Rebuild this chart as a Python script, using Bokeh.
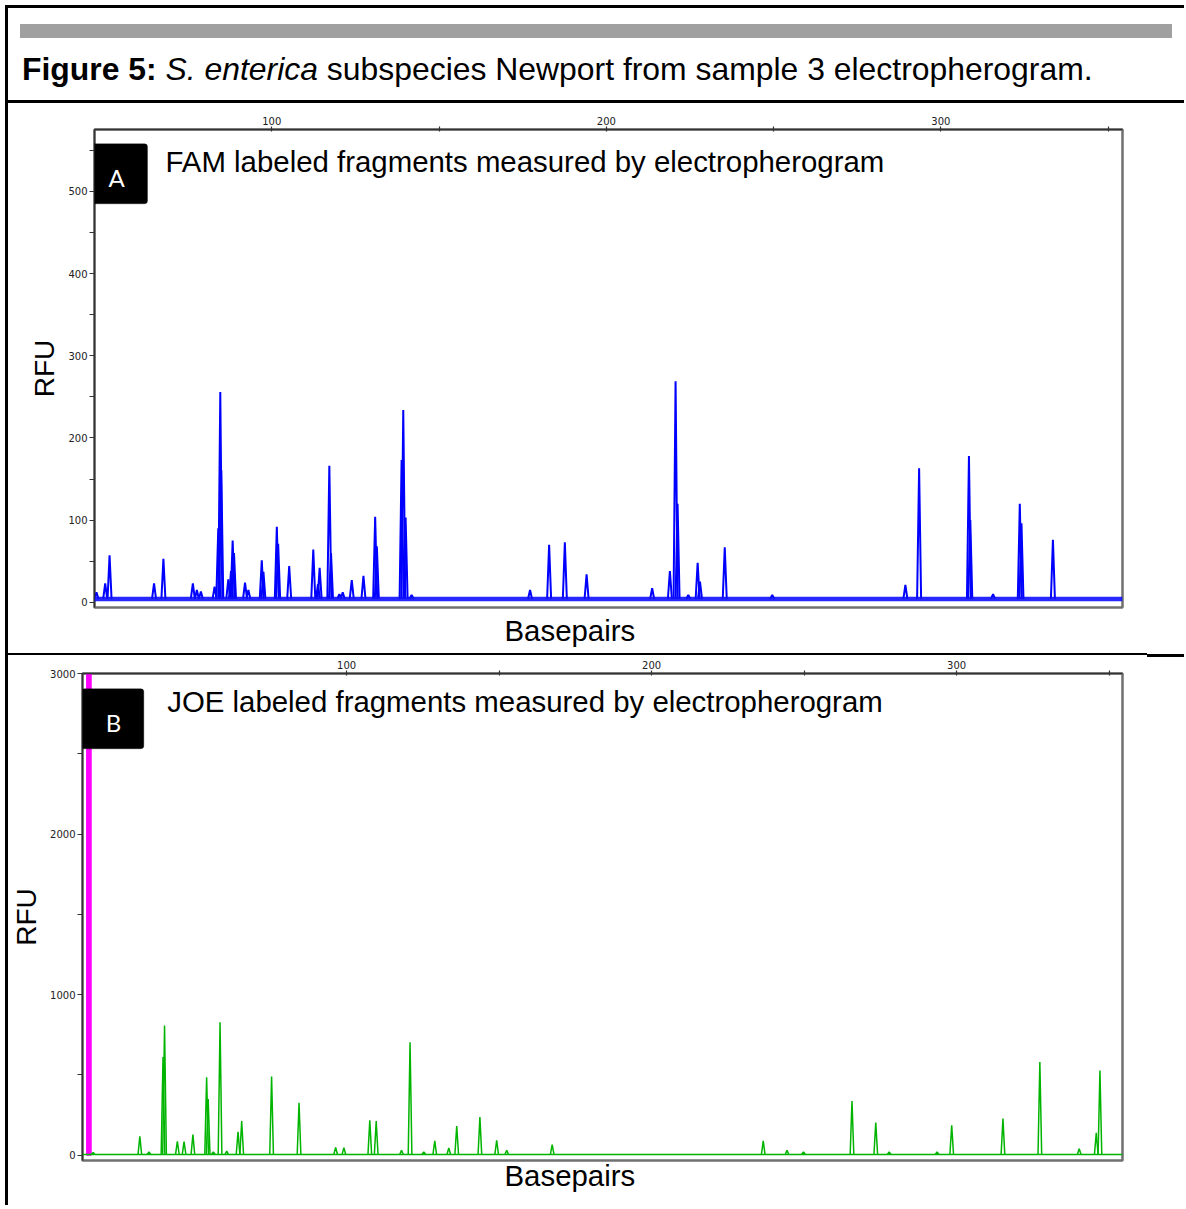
from bokeh.plotting import figure
from bokeh.models import Range1d, FixedTicker, Label, BoxAnnotation, Span, Div, Title
from bokeh.layouts import row, column
from bokeh.embed import file_html
from bokeh.resources import INLINE

# ---------------- data ----------------
title_bold = "Figure 5:"
title_italic = "S. enterica"
title_rest = "subspecies Newport from sample 3 electropherogram."

fam_title = "FAM labeled fragments measured by electropherogram"
joe_title = "JOE labeled fragments measured by electropherogram"
x_label = "Basepairs"
y_label = "RFU"

# FAM (blue) peaks: size in basepairs, height in RFU
fam_bp = [47.6, 50.2, 51.5, 64.8, 67.6, 76.4, 77.6, 78.8, 82.9, 84.0, 84.6, 84.9,
          87.0, 87.8, 88.3, 88.7, 92.0, 93.0, 97.0, 97.5, 101.5, 101.9, 105.2,
          112.4, 113.8, 114.3, 117.2, 117.7, 120.2, 121.2, 123.9, 127.4, 130.9,
          131.4, 138.8, 139.3, 140.0, 141.8, 177.2, 182.9, 187.6, 194.1, 213.7,
          219.0, 220.7, 221.3, 224.5, 227.3, 228.0, 235.4, 249.6, 289.4, 293.5,
          308.4, 308.8, 315.6, 323.6, 324.1, 333.5]
fam_rfu = [12, 23, 57, 23, 53, 23, 15, 13, 19, 90, 256, 161,
           28, 38, 75, 60, 24, 15, 51, 37, 92, 71, 44,
           64, 22, 42, 166, 60, 10, 12, 27, 32, 104,
           68, 173, 234, 103, 9, 15, 70, 73, 34, 17,
           38, 269, 120, 9, 48, 25, 67, 9, 21, 163,
           178, 100, 10, 120, 96, 76]
fam_baseline_rfu = 4

# JOE (green) peaks
joe_bp = [16.9, 32.2, 35.2, 39.8, 40.3, 44.5, 46.7, 49.6, 54.1, 54.6, 56.3, 58.5,
          60.7, 64.4, 65.6, 75.4, 84.4, 96.4, 99.1, 107.6, 109.7, 118.0, 120.8,
          125.3, 128.9, 133.5, 136.1, 143.7, 149.2, 152.5, 167.4, 236.6, 244.4,
          249.8, 265.7, 273.5, 277.9, 293.6, 298.4, 315.2, 327.3, 340.2, 345.8,
          347.0]
joe_rfu = [17, 117, 20, 611, 807, 87, 84, 128, 486, 350, 20, 828,
           25, 145, 213, 490, 327, 48, 47, 217, 213, 30, 704,
           20, 89, 45, 182, 237, 93, 30, 66, 89, 30,
           20, 337, 203, 20, 20, 186, 228, 580, 40, 140,
           528]
joe_baseline_rfu = 4
# off-scale primer peak (magenta)
primer_bp = [15.5]
primer_rfu = [9000]

x_ticks = [100, 150, 200, 250, 300, 350]
x_tick_labels = {100: "100", 200: "200", 300: "300"}
fam_y_ticks = [0, 50, 100, 150, 200, 250, 300, 350, 400, 450, 500, 550]
fam_y_labels = {0: "0", 100: "100", 200: "200", 300: "300", 400: "400", 500: "500"}
joe_y_ticks = [0, 500, 1000, 1500, 2000, 2500, 3000]
joe_y_labels = {0: "0", 1000: "1000", 2000: "2000", 3000: "3000"}

# ---------------- styles ----------------
FONT = "Liberation Sans"
TICK_FONT = "DejaVu Sans"
COL_W = 1184


def style_axes(p, yticks, ylabels):
    xa = p.xaxis[0]
    xa.ticker = FixedTicker(ticks=x_ticks)
    xa.major_label_overrides = {t: x_tick_labels.get(t, "") for t in x_ticks}
    xa.major_tick_in = 2
    xa.major_tick_out = 3
    ya = p.yaxis[0]
    ya.ticker = FixedTicker(ticks=yticks)
    ya.major_label_overrides = {t: ylabels.get(t, "") for t in yticks}
    ya.major_tick_in = 0
    ya.major_tick_out = 5
    for ax in (xa, ya):
        ax.minor_tick_line_color = None
        ax.axis_line_color = "#333333"
        ax.axis_line_width = 1.5
        ax.major_tick_line_color = "#333333"
        ax.major_tick_line_width = 1.2
        ax.major_label_text_font = TICK_FONT
        ax.major_label_text_font_size = "10px"
        ax.major_label_text_color = "#222222"
        ax.major_label_standoff = 2
    p.xgrid.visible = False
    p.ygrid.visible = False
    p.outline_line_color = "#707070"
    p.outline_line_width = 2.5
    p.border_fill_color = None


def add_peaks(p, bp, rfu, base, color, hw, lw):
    xs = [[b - hw, b, b + hw] for b in bp]
    ys = [[base, r, base] for r in rfu]
    p.multi_line(xs=xs, ys=ys, line_color=color, line_width=lw)


def add_texts(p, box, letter_xy, heading_xy, heading, letter, rfu_standoff,
              bp_offset, bp_standoff):
    p.add_layout(BoxAnnotation(left=box[0], right=box[1], top=box[2], bottom=box[3],
                               left_units="canvas", right_units="canvas",
                               top_units="canvas", bottom_units="canvas",
                               fill_color="black", fill_alpha=1.0,
                               line_color="black", border_radius=3))
    p.add_layout(Label(x=letter_xy[0], y=letter_xy[1], x_units="canvas", y_units="canvas",
                       text=letter, text_color="white", text_font="Lato",
                       text_font_size="24px", text_align="center", text_baseline="middle"))
    p.add_layout(Label(x=heading_xy[0], y=heading_xy[1], x_units="canvas", y_units="canvas",
                       text=heading, text_color="black", text_font=FONT,
                       text_font_size="29.4px", text_align="left", text_baseline="alphabetic"))
    p.add_layout(Title(text=y_label, align="center", text_font=FONT, text_font_size="28px",
                       text_font_style="normal", text_color="black",
                       standoff=rfu_standoff), "left")
    p.add_layout(Title(text=x_label, align="left", offset=bp_offset, text_font=FONT,
                       text_font_size="29.4px", text_font_style="normal", text_color="black",
                       standoff=bp_standoff), "below")


# ---------------- header (HTML) ----------------
header_html = (
    '<div style="position:relative;width:1184px;height:104px;overflow:hidden;">'
    '<div style="position:absolute;left:5px;top:5px;width:1179px;height:3px;background:#000;"></div>'
    '<div style="position:absolute;left:20px;top:24px;width:1152px;height:14px;background:#a0a0a0;"></div>'
    '<div style="position:absolute;left:22px;top:51px;font-family:\'Liberation Sans\';'
    'font-size:31.9px;line-height:36px;color:#000;white-space:nowrap;">'
    '<b>' + title_bold + '</b> <i>' + title_italic + '</i> ' + title_rest + '</div>'
    '<div style="position:absolute;left:5px;top:100px;width:1179px;height:3px;background:#000;"></div>'
    '</div>'
)
header = Div(text=header_html, width=COL_W, height=104, margin=0)

# ---------------- panel A (FAM) ----------------
pa = figure(x_range=Range1d(47.0, 354.3), y_range=Range1d(-6.4, 575.4),
            frame_width=1028, frame_height=478,
            min_border_left=94, min_border_right=62, min_border_top=25, min_border_bottom=46,
            x_axis_location="above", toolbar_location=None, output_backend="svg", title=None)
style_axes(pa, fam_y_ticks, fam_y_labels)
pa.add_layout(Span(location=fam_baseline_rfu, dimension="width", line_color="#1010ff",
                   line_width=4.5, line_alpha=0.9))
add_peaks(pa, fam_bp, fam_rfu, fam_baseline_rfu, "#0000ff", 0.6, 2.0)
add_texts(pa, (84, 147, 39.3, 99.3), (116, 73), (165, 56.7), fam_title, "A",
          11, 410, 9)

# ---------------- separator (CSS background lines) ----------------
sep = Div(text="", width=COL_W, height=4, margin=0,
          styles={"background-image": "linear-gradient(#000, #000), linear-gradient(#000, #000)",
                  "background-size": "1142px 2px, 37px 3px",
                  "background-position": "5px 0px, 1147px 1px",
                  "background-repeat": "no-repeat"})

# ---------------- panel B (JOE) ----------------
pb = figure(x_range=Range1d(13.4, 354.4), y_range=Range1d(-33, 3000),
            frame_width=1040, frame_height=487,
            min_border_left=82, min_border_right=62, min_border_top=16, min_border_bottom=45,
            x_axis_location="above", toolbar_location=None, output_backend="svg", title=None)
style_axes(pb, joe_y_ticks, joe_y_labels)
pb.add_layout(Span(location=joe_baseline_rfu, dimension="width", line_color="#00b400",
                   line_width=1.5))
pb.vbar(x=primer_bp, top=primer_rfu, bottom=0, width=1.5, color="#ff00ff")
add_peaks(pb, joe_bp, joe_rfu, joe_baseline_rfu, "#00b400", 0.6, 1.5)
add_texts(pb, (80.7, 143.3, 31.3, 91.3), (113, 65), (166.7, 44.2), joe_title, "B",
          12, 422, -7)

# ---------------- layout ----------------
layout = column(header, row(pa), sep, row(pb),
                styles={"background-image": "linear-gradient(#000, #000)",
                        "background-size": "3px 100%",
                        "background-position": "5px 5px",
                        "background-repeat": "no-repeat"})

open("out.html", "w").write(file_html(layout, INLINE))
